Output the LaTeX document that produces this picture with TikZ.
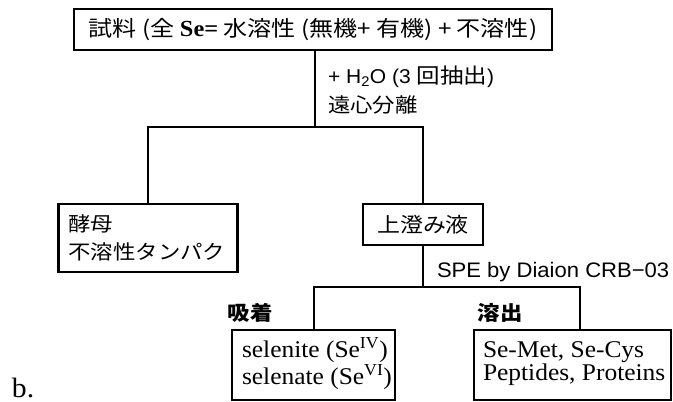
\documentclass[tikz,border=0pt]{standalone}
\usepackage{fontspec}
\setmainfont[FakeStretch=1.06]{Liberation Serif}
\newfontfamily\cjk[FakeStretch=1.12]{Noto Sans CJK JP}
\newfontfamily\arl[FakeStretch=1.05]{Liberation Sans}
\begin{document}
\begin{tikzpicture}[x=1pt,y=-1pt,
  box/.style={draw, line width=2.6pt, inner sep=0pt, outer sep=0pt},
  conn/.style={line width=2pt},
  lbl/.style={inner sep=0pt, outer sep=0pt},
  intext/.style={inner sep=0pt, outer sep=0pt, anchor=west, align=left}]
\useasboundingbox (0,0) rectangle (673,402);
% boxes
\node[box, minimum width=478pt, minimum height=41pt] (top) at (313,29.5)
  {\cjk\fontsize{21.5}{26}\selectfont 試料 (全 {\rmfamily\bfseries\fontsize{23}{26}\selectfont Se=} 水溶性 (無機+ 有機) + 不溶性)};
\node[box, minimum width=179pt, minimum height=68pt] (yeast) at (148,238) {};
\node[intext, font=\cjk\fontsize{20}{28}\selectfont] (yeastt) at ([xshift=10pt]yeast.west)
  {酵母\\不溶性タンパク};
\node[box, minimum width=120pt, minimum height=41pt] (sup) at (423,224.5)
  {\cjk\fontsize{20.5}{24}\selectfont 上澄み液};
\node[box, minimum width=163pt, minimum height=70pt] (ads) at (313.5,365) {};
\node[intext, font=\fontsize{24}{23}\selectfont] (adst) at ([xshift=10pt,yshift=1.5pt]ads.west)
  {selenite (Se\textsuperscript{IV})\\selenate (Se\textsuperscript{VI})};
\node[box, minimum width=197pt, minimum height=70pt] (elu) at (572.5,365) {};
\node[intext, font=\fontsize{24}{23}\selectfont] (elut) at ([xshift=9pt,yshift=1.5pt]elu.west)
  {Se-Met, Se-Cys\\Peptides, Proteins};
% junctions
\coordinate (j1) at (315,127);
\coordinate (j2) at (423,287);
\coordinate (j3) at (580,287);
% connectors
\draw[conn] (top.south -| j1) -- (j1);
\draw[conn] (yeast.north) |- (j1) -| (sup.north);
\draw[conn] (sup.south) -- (j2);
\draw[conn] (ads.north) |- (j2) -- (j3) -- (j3 |- elu.north);
% labels
\node[lbl, anchor=west] (h2o) at (328,77)
  {\arl\fontsize{20}{22}\selectfont + H\textsubscript{2}O (3 {\cjk\fontsize{21}{22}\selectfont 回抽出})};
\node[lbl, anchor=west] (cent) at (328,105)
  {\cjk\fontsize{20}{24}\selectfont 遠心分離};
\node[lbl, anchor=base west] (spe) at (437,277)
  {\arl\fontsize{21}{24}\selectfont SPE by Diaion CRB−03};
\node[lbl] (adsl) at (250,313) {\cjk\bfseries\fontsize{20}{24}\selectfont 吸着};
\node[lbl] (elul) at (500,313) {\cjk\bfseries\fontsize{20}{24}\selectfont 溶出};
\node[lbl, anchor=base west] (blab) at (12,397) {\fontsize{28}{28}\selectfont b.};
\end{tikzpicture}
\end{document}
